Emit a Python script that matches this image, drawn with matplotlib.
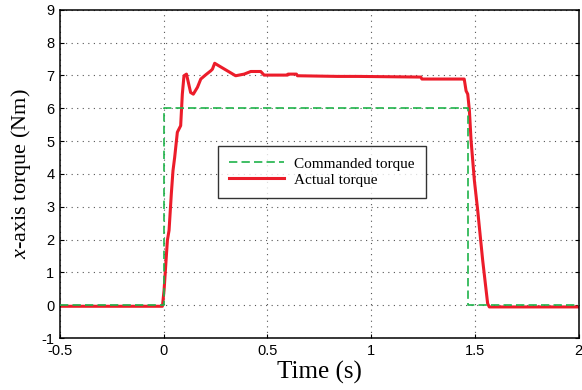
import numpy as np
import matplotlib
matplotlib.use("Agg")
import matplotlib.pyplot as plt

# --- data ---
cmd_t = [-0.5, 0.0, 0.0, 1.467, 1.467, 2.0]
cmd_v = [0.0, 0.0, 6.0, 6.0, 0.0, 0.0]

act_t = [-0.5, -0.006, 0.002, 0.018, 0.026, 0.037, 0.045, 0.053, 0.066, 0.082,
         0.09, 0.098, 0.11, 0.13, 0.143, 0.163, 0.179, 0.203, 0.227, 0.235,
         0.246, 0.267, 0.307, 0.347, 0.388, 0.42, 0.468, 0.484, 0.597, 0.6,
         0.64, 0.645, 0.84, 0.9, 0.935, 1.24, 1.245, 1.44, 1.449, 1.458,
         1.466, 1.474, 1.482, 1.498, 1.514, 1.522, 1.538, 1.562, 1.57, 2.0]
act_v = [-0.03, -0.03, 0.46, 1.98, 2.28, 3.4, 4.1, 4.5, 5.27, 5.47,
         6.43, 6.99, 7.04, 6.48, 6.43, 6.64, 6.89, 7.02, 7.14, 7.19,
         7.37, 7.29, 7.14, 6.99, 7.04, 7.12, 7.12, 7.01, 7.01, 7.04,
         7.04, 6.99, 6.97, 6.97, 6.97, 6.95, 6.89, 6.89, 6.89, 6.53,
         6.43, 5.93, 5.02, 3.8, 2.89, 2.38, 1.37, 0.05, -0.05, -0.05]

xticks = [-0.5, 0, 0.5, 1, 1.5, 2]
xticklabels = ["-0.5", "0", "0.5", "1", "1.5", "2"]
yticks = list(range(-1, 10))
yticklabels = [str(v) for v in yticks]

plt.rcParams["axes.unicode_minus"] = False
plt.rcParams["mathtext.fontset"] = "custom"
plt.rcParams["mathtext.it"] = "Liberation Serif:italic"
plt.rcParams["mathtext.rm"] = "Liberation Serif"

fig = plt.figure(figsize=(5.82, 3.9), dpi=100)
ax = fig.add_axes([0.103, 0.133, 0.891, 0.842])

ax.plot(cmd_t, cmd_v, color="#1fb34a", linestyle=(0, (5, 2.5)), linewidth=1.2,
        label="Commanded torque", zorder=3)
ax.plot(act_t, act_v, color="#ec1c2a", linewidth=2.2, label="Actual torque", zorder=2)

ax.set_xlim(-0.5, 2)
ax.set_ylim(-1, 9)
ax.set_xticks(xticks)
ax.set_xticklabels(xticklabels)
ax.set_yticks(yticks)
ax.set_yticklabels(yticklabels)
ax.tick_params(direction="in", length=3, width=0.8, labelsize=10.5, pad=4,
               top=False, right=True)
for lbl in ax.get_xticklabels() + ax.get_yticklabels():
    lbl.set_family("Liberation Sans")

ax.grid(True, linestyle=(0, (1, 4)), color="#555555", linewidth=0.8)
for s in ax.spines.values():
    s.set_linewidth(1.1)

ax.set_xlabel("Time (s)", family="Liberation Serif", fontsize=18, labelpad=2)
ax.set_ylabel(r"$x$-axis torque (Nm)", family="Liberation Serif", fontsize=16, labelpad=6)

leg = ax.legend(loc="center", bbox_to_anchor=(0.505, 0.506), frameon=True, fancybox=False,
                prop={"family": "Liberation Serif", "size": 11},
                handlelength=3.6, borderpad=0.75, labelspacing=0.15, handletextpad=0.6)
leg.get_frame().set_edgecolor("black")
leg.get_frame().set_linewidth(1.0)

fig.savefig("out.png", dpi=100)
